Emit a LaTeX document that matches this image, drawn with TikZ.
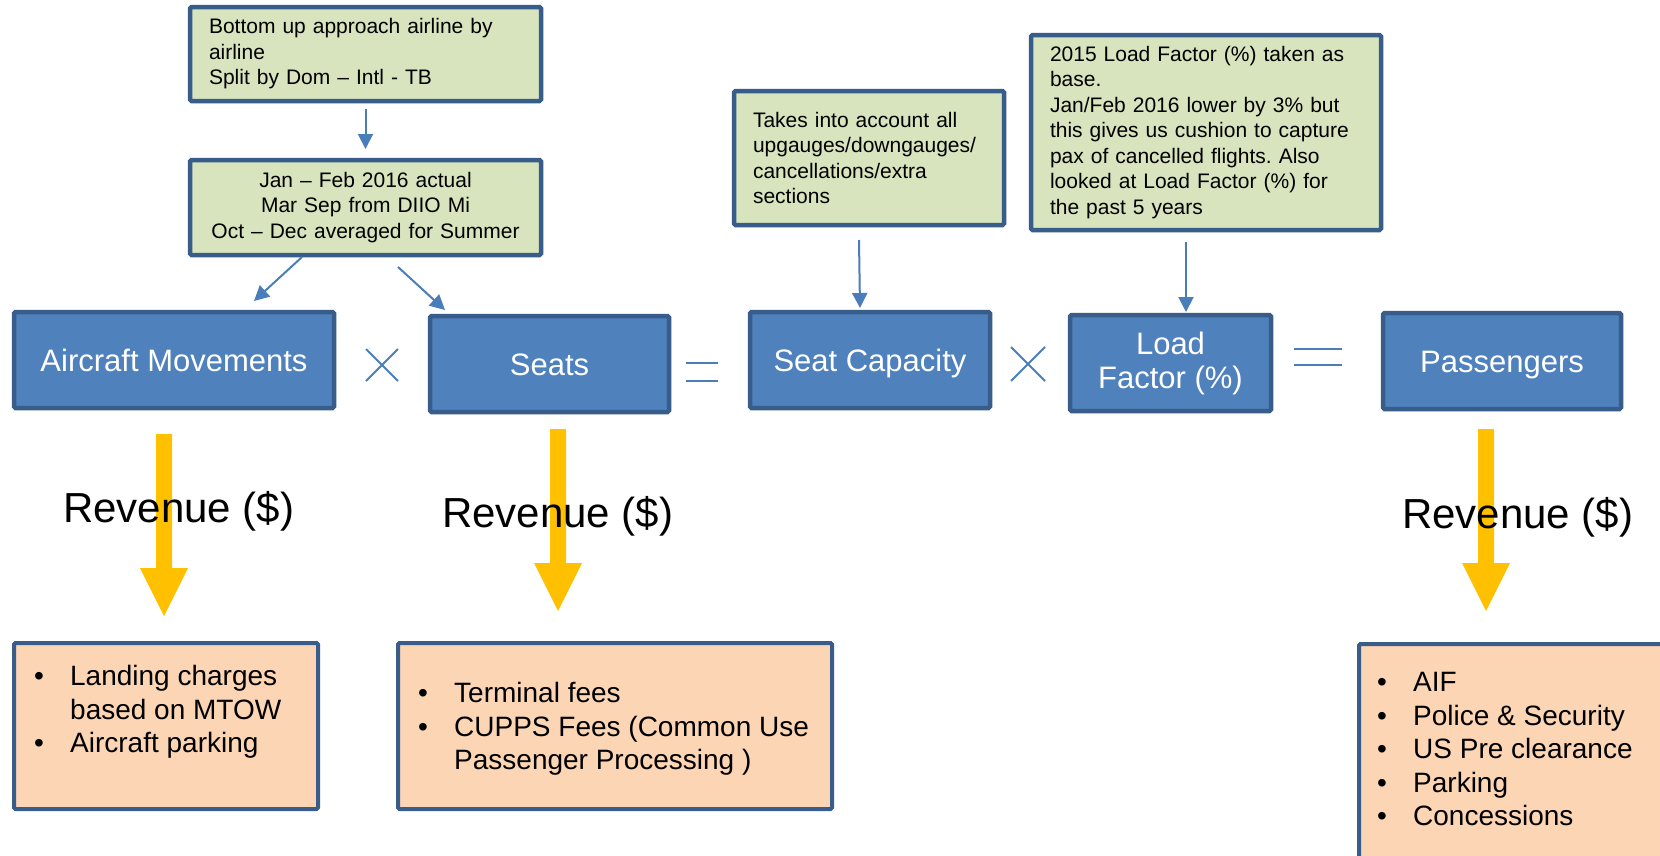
\documentclass[tikz,border=0pt]{standalone}
\usepackage{fontspec}
\setmainfont{Liberation Sans}
\usetikzlibrary{arrows.meta}
\definecolor{gfill}{HTML}{D7E4BD}
\definecolor{bfill}{HTML}{4F81BD}
\definecolor{bdr}{HTML}{385D8A}
\definecolor{pfill}{HTML}{FCD5B5}
\definecolor{yarr}{HTML}{FFC000}
\definecolor{thinblue}{HTML}{4A7EBB}
\newcommand{\bul}[1]{\makebox[36pt][l]{•}#1}
\newcommand{\cont}[1]{\hspace*{36pt}#1}
\frenchspacing
\begin{document}
\begin{tikzpicture}[x=1pt,y=-1pt,
 box/.style={draw=bdr, line width=4.5pt, rounded corners=1.5pt, inner sep=0pt, outer sep=0pt},
 gbox/.style={box, fill=gfill, font=\fontsize{21}{25.5}\selectfont, inner xsep=19pt, align=left},
 bbox/.style={box, fill=bfill, text=white, font=\fontsize{31}{34}\selectfont, align=center, text height=22.5pt, text depth=0pt},
 pbox/.style={box, fill=pfill, line width=4pt},
 ptext/.style={inner sep=0pt, anchor=north west, align=left, font=\fontsize{28}{33.6}\selectfont},
 rev/.style={inner sep=0pt, anchor=base west, font=\fontsize{42}{50}\selectfont},
 link/.style={draw=thinblue, line width=2pt, -{Triangle[length=15pt,width=15pt]}},
 op/.style={draw=thinblue, line width=2pt},
 yarrow/.pic={\fill[yarr] (-8,0) -- (8,0) -- (8,134) -- (24,134) -- (0,182) -- (-24,134) -- (-8,134) -- cycle;}
]
\useasboundingbox (0,0) rectangle (1660,855);
\clip (0,0) rectangle (1660,855);
\fill[white] (0,0) rectangle (1660,855);

% green note boxes
\node[gbox, minimum width=351pt, minimum height=94pt, text width=313pt] (g1) at (365.5,54)
  {Bottom up approach airline by\\airline\\Split by Dom – Intl - TB};
\node[gbox, align=center, minimum width=351pt, minimum height=95pt, text width=313pt] (g2) at (365.5,207.5)
  {Jan – Feb 2016 actual\\Mar Sep from DIIO Mi\\Oct – Dec averaged for Summer};
\node[gbox, minimum width=270pt, minimum height=134pt, text width=232pt] (g3) at (869,158)
  {Takes into account all\\upgauges/downgauges/\\cancellations/extra\\sections};
\node[gbox, minimum width=350pt, minimum height=195pt, text width=312pt] (g4) at (1206,132.5)
  {2015 Load Factor (\%) taken as\\base.\\Jan/Feb 2016 lower by 3\% but\\this gives us cushion to capture\\pax of cancelled flights. Also\\looked at Load Factor (\%) for\\the past 5 years};

% blue boxes
\node[bbox, minimum width=320pt, minimum height=96pt] (am) at (174,360) {Aircraft Movements};
\node[bbox, minimum width=239pt, minimum height=96pt] (seats) at (549.5,364) {Seats};
\node[bbox, minimum width=240pt, minimum height=96pt] (sc) at (870,360) {Seat Capacity};
\node[bbox, minimum width=201pt, minimum height=96pt, text height=, text depth=] (lf) at (1170.5,363) {Load\\Factor (\%)};
\node[bbox, minimum width=238pt, minimum height=96pt] (pass) at (1502,361) {Passengers};

% operators
\draw[op] (366,349) -- (398,381) (366,381) -- (398,349);
\draw[op] (686,363) -- (718,363) (686,381) -- (718,381);
\draw[op] (1011,347) -- (1045,381) (1011,381) -- (1045,347);
\draw[op] (1294,349) -- (1342,349) (1294,365) -- (1342,365);

% thin connectors
\draw[link] ([yshift=-8pt]g1.south) -- ([yshift=11pt]g2.north);
\draw[link] ([shift={(-63.5,2)}]g2.south) -- ([shift={(80,-11)}]am.north);
\draw[link] ([shift={(32.5,12)}]g2.south) -- ([shift={(-104.5,-6)}]seats.north);
\draw[link] ([shift={(-10,15)}]g3.south) -- ([shift={(-10,-4)}]sc.north);
\draw[link] ([shift={(-20,12)}]g4.south) -- ([shift={(15.5,-3)}]lf.north);

% yellow arrows
\pic at (164,434) {yarrow};
\pic at (558,429) {yarrow};
\pic at (1486,429) {yarrow};

% revenue labels
\node[rev] (r1) at (63,522) {Revenue (\$)};
\node[rev] (r2) at (442,527) {Revenue (\$)};
\node[rev] (r3) at (1402,528) {Revenue (\$)};

% peach boxes
\node[pbox, minimum width=304pt, minimum height=166pt] (p1) at (166,726) {};
\node[pbox, minimum width=434pt, minimum height=166pt] (p2) at (615,726) {};
\node[pbox, minimum width=339pt, minimum height=254pt] (p3) at (1528.5,771) {};

\node[ptext] (p1t) at (34,665) {\bul{Landing charges}\\\cont{based on MTOW}\\\bul{Aircraft parking}};
\node[ptext] (p2t) at (418,682) {\bul{Terminal fees}\\\bul{CUPPS Fees (Common Use}\\\cont{Passenger Processing )}};
\node[ptext] (p3t) at (1377,672) {\bul{AIF}\\\bul{Police \& Security}\\\bul{US Pre clearance}\\\bul{Parking}\\\bul{Concessions}};
\end{tikzpicture}
\end{document}
